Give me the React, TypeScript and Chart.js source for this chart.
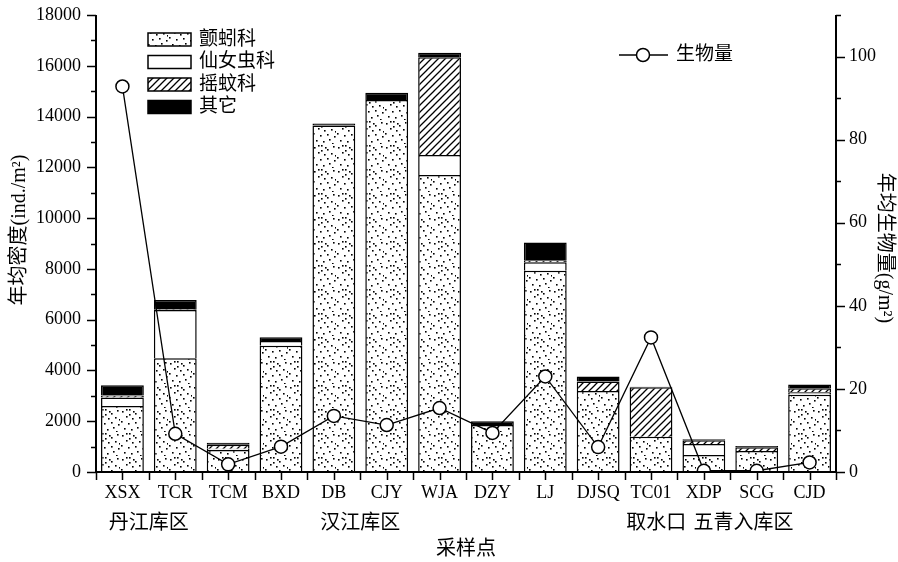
import React, { useEffect, useRef } from 'react';
import { Chart, registerables } from 'chart.js';

Chart.register(...registerables);

// ---- data ----
const categories = ['XSX', 'TCR', 'TCM', 'BXD', 'DB', 'CJY', 'WJA', 'DZY', 'LJ', 'DJSQ', 'TC01', 'XDP', 'SCG', 'CJD'];
const seriesNames = ['颤蚓科', '仙女虫科', '摇蚊科', '其它'];
const tubificidae = [2600, 4480, 870, 4975, 13650, 14650, 11700, 1850, 7930, 3190, 1390, 670, 827, 3040];
const naididae = [330, 1900, 50, 185, 0, 0, 785, 0, 330, 0, 0, 430, 0, 100];
const chironomidae = [80, 30, 150, 0, 0, 0, 3850, 0, 80, 370, 1950, 150, 150, 160];
const others = [410, 365, 80, 145, 80, 290, 180, 150, 700, 200, 20, 40, 47, 150];
const lineName = '生物量';
const biomass = [92.8, 9.2, 1.85, 6.1, 13.5, 11.3, 15.4, 9.4, 23.0, 6.0, 32.4, 0.3, 0.3, 2.3];
const groupLabels = ['丹江库区', '汉江库区', '取水口', '五青入库区'];
const leftTitle = '年均密度(ind./m²)';
const rightTitle = '年均生物量(g/m²)';
const xTitle = '采样点';

const FONT = "'Liberation Serif', 'Noto Sans CJK SC', serif";

function makeDotPattern(ctx: CanvasRenderingContext2D) {
  const c = document.createElement('canvas');
  c.width = 24; c.height = 24;
  const g = c.getContext('2d')!;
  g.fillStyle = '#fff'; g.fillRect(0, 0, 24, 24);
  g.fillStyle = '#000';
  const dots = [
    [2, 3], [9, 1], [15, 5], [21, 2], [6, 8], [12, 10], [19, 9], [1, 13],
    [8, 15], [15, 14], [22, 16], [4, 20], [11, 21], [17, 19], [20, 23], [13, 3],
    [23, 11], [6, 1], [9, 6]
  ];
  dots.forEach(([x, y]) => g.fillRect(x, y, 1.6, 1.6));
  return ctx.createPattern(c, 'repeat')!;
}

function makeHatchPattern(ctx: CanvasRenderingContext2D) {
  const s = 7;
  const c = document.createElement('canvas');
  c.width = s; c.height = s;
  const g = c.getContext('2d')!;
  g.fillStyle = '#fff'; g.fillRect(0, 0, s, s);
  g.strokeStyle = '#000';
  g.lineWidth = 1.3;
  g.beginPath();
  g.moveTo(-1, s + 1); g.lineTo(s + 1, -1);
  g.moveTo(-s / 2 - 1, s / 2 + 1); g.lineTo(s / 2 + 1, -s / 2 - 1);
  g.moveTo(s / 2 - 1, s * 1.5 + 1); g.lineTo(s * 1.5 + 1, s / 2 - 1);
  g.stroke();
  return ctx.createPattern(c, 'repeat')!;
}

export default function App() {
  const ref = useRef<HTMLCanvasElement>(null);

  useEffect(() => {
    const canvas = ref.current!;
    const ctx0 = canvas.getContext('2d')!;
    const dot = makeDotPattern(ctx0);
    const hatch = makeHatchPattern(ctx0);
    const fills: any[] = [dot, '#ffffff', hatch, '#000000'];
    const values = [tubificidae, naididae, chironomidae, others];

    const customPlugin = {
      id: 'customDecor',
      afterDraw(chart: any) {
        const { ctx, chartArea: a, scales } = chart;
        const xs = scales.x, ys = scales.y, y1 = scales.y1;
        ctx.save();
        ctx.strokeStyle = '#000';
        // axis lines
        ctx.lineWidth = 2;
        ctx.beginPath();
        ctx.moveTo(a.left, a.top); ctx.lineTo(a.left, a.bottom); ctx.lineTo(a.right, a.bottom);
        ctx.moveTo(a.right, a.top); ctx.lineTo(a.right, a.bottom);
        ctx.stroke();
        // ticks
        ctx.lineWidth = 1.5;
        ctx.beginPath();
        for (let v = 0; v <= 18000; v += 1000) {
          const p = Math.round(ys.getPixelForValue(v)) + 0.5;
          const len = v % 2000 === 0 ? 9 : 5;
          ctx.moveTo(a.left, p); ctx.lineTo(a.left - len, p);
        }
        for (let v = 0; v <= 110; v += 10) {
          const p = Math.round(y1.getPixelForValue(v)) + 0.5;
          const len = v % 20 === 0 ? 9 : 5;
          ctx.moveTo(a.right, p); ctx.lineTo(a.right + len, p);
        }
        for (let i = 0; i <= categories.length * 2; i++) {
          const p = Math.round(xs.getPixelForValue(i / 2 - 0.5)) + 0.5;
          ctx.moveTo(p, a.bottom); ctx.lineTo(p, a.bottom + 8);
        }
        ctx.stroke();

        // bar legend
        ctx.font = `19px ${FONT}`;
        ctx.fillStyle = '#000';
        ctx.textBaseline = 'middle';
        ctx.textAlign = 'left';
        seriesNames.forEach((name, i) => {
          const top = 33 + i * 22.5;
          ctx.fillStyle = fills[i];
          ctx.fillRect(148, top, 43, 13);
          ctx.lineWidth = 1.5;
          ctx.strokeStyle = '#000';
          ctx.strokeRect(148, top, 43, 13);
          ctx.fillStyle = '#000';
          ctx.fillText(name, 199, top + 7);
        });

        // line legend
        ctx.lineWidth = 1.5;
        ctx.beginPath();
        ctx.moveTo(619, 55); ctx.lineTo(668, 55);
        ctx.stroke();
        ctx.beginPath();
        ctx.arc(643, 55, 6.5, 0, Math.PI * 2);
        ctx.fillStyle = '#fff';
        ctx.fill();
        ctx.stroke();
        ctx.fillStyle = '#000';
        ctx.fillText(lineName, 676, 55);

        // group labels
        ctx.font = `20px ${FONT}`;
        const groupPos = [0.5, 4.5, 10.1, 11.75];
        ctx.textAlign = 'center';
        groupLabels.forEach((g, i) => {
          ctx.fillText(g, xs.getPixelForValue(groupPos[i]), 524);
        });
        // x title
        ctx.fillText(xTitle, (a.left + a.right) / 2, 550);

        // left title
        ctx.save();
        ctx.translate(20, 230);
        ctx.rotate(-Math.PI / 2);
        ctx.fillText(leftTitle, 0, 0);
        ctx.restore();

        // right title
        ctx.save();
        ctx.translate(884, 248);
        ctx.rotate(Math.PI / 2);
        ctx.fillText(rightTitle, 0, 0);
        ctx.restore();

        ctx.restore();
      }
    };

    const chart = new Chart(canvas, {
      data: {
        labels: categories,
        datasets: [
          ...seriesNames.map((name, i) => ({
            type: 'bar' as const,
            label: name,
            data: values[i],
            backgroundColor: fills[i],
            borderColor: '#000',
            borderWidth: 1.5,
            yAxisID: 'y',
            stack: 'density',
            order: 2,
            categoryPercentage: 1,
            barPercentage: 0.81,
          })),
          {
            type: 'line' as const,
            label: lineName,
            data: biomass,
            yAxisID: 'y1',
            borderColor: '#000',
            borderWidth: 1.3,
            pointRadius: 6.5,
            pointBackgroundColor: '#fff',
            pointBorderColor: '#000',
            pointBorderWidth: 1.5,
            tension: 0,
            order: 1,
          } as any,
        ],
      },
      options: {
        responsive: false,
        animation: false,
        layout: { padding: { top: 15, left: 0, right: 0, bottom: 0 } },
        plugins: {
          legend: { display: false },
          tooltip: { enabled: false },
        },
        scales: {
          x: {
            type: 'category',
            stacked: true,
            offset: true,
            grid: { display: false, drawTicks: false },
            border: { display: false },
            ticks: {
              font: { family: FONT, size: 18 },
              color: '#000',
              padding: 10,
              maxRotation: 0,
              autoSkip: false,
            },
            afterFit: (s: any) => { s.height = 90; s.paddingLeft = 0; s.paddingRight = 0; },
          },
          y: {
            position: 'left',
            stacked: true,
            min: 0,
            max: 18000,
            grid: { display: false, drawTicks: false },
            border: { display: false },
            ticks: {
              stepSize: 2000,
              font: { family: FONT, size: 18 },
              color: '#000',
              padding: 15,
              callback: (v: any) => String(v),
            },
            afterFit: (s: any) => { s.width = 96; s.paddingTop = 0; s.paddingBottom = 0; },
          },
          y1: {
            position: 'right',
            stacked: false,
            min: 0,
            max: 110,
            grid: { display: false, drawTicks: false },
            border: { display: false },
            ticks: {
              stepSize: 20,
              font: { family: FONT, size: 18 },
              color: '#000',
              padding: 13,
              callback: (v: any) => (v % 20 === 0 && v <= 100 ? String(v) : ''),
            },
            afterFit: (s: any) => { s.width = 62; s.paddingTop = 0; s.paddingBottom = 0; },
          },
        },
      } as any,
      plugins: [customPlugin],
    });

    return () => chart.destroy();
  }, []);

  return (
    <div style={{ position: 'fixed', left: 0, top: 0, width: 898, height: 562, background: '#fff' }}>
      <canvas ref={ref} width={898} height={562} style={{ width: 898, height: 562, display: 'block' }} />
    </div>
  );
}
